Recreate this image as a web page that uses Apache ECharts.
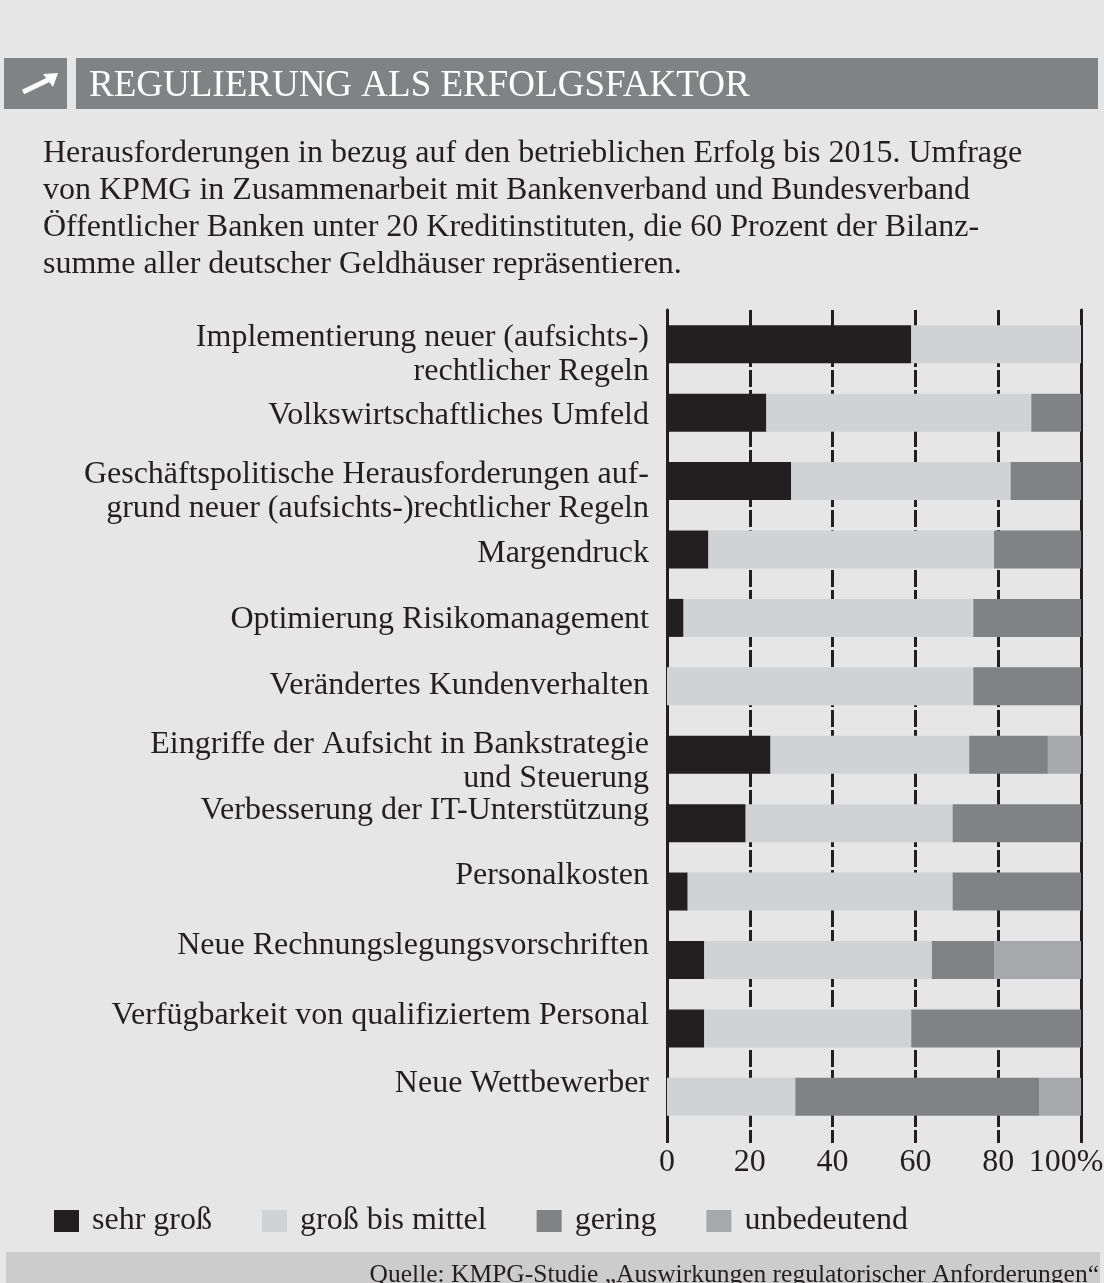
<!DOCTYPE html>
<html>
<head>
<meta charset="utf-8">
<script src="https://cdn.jsdelivr.net/npm/echarts@6/dist/echarts.min.js"></script>
<style>
  html, body { margin: 0; padding: 0; background: #f4f4f4; }
  #chart { width: 1104px; height: 1283px; }
</style>
</head>
<body>
<div id="chart"></div>
<script>
  // Kategorien (von oben nach unten)
  const categories = [
    'Implementierung neuer (aufsichts-)\nrechtlicher Regeln',
    'Volkswirtschaftliches Umfeld',
    'Geschäftspolitische Herausforderungen auf-\ngrund neuer (aufsichts-)rechtlicher Regeln',
    'Margendruck',
    'Optimierung Risikomanagement',
    'Verändertes Kundenverhalten',
    'Eingriffe der Aufsicht in Bankstrategie\nund Steuerung',
    'Verbesserung der IT-Unterstützung',
    'Personalkosten',
    'Neue Rechnungslegungsvorschriften',
    'Verfügbarkeit von qualifiziertem Personal',
    'Neue Wettbewerber'
  ];
  const sehrGross      = [59, 24, 30, 10,  4,  0, 25, 19,  5,  9,  9,  0];
  const grossBisMittel = [41, 64, 53, 69, 70, 74, 48, 50, 64, 55, 50, 31];
  const gering         = [ 0, 12, 17, 21, 26, 26, 19, 31, 31, 15, 41, 59];
  const unbedeutend    = [ 0,  0,  0,  0,  0,  0,  8,  0,  0, 21,  0, 10];
  const xTicks = ['0', '20', '40', '60', '80', '100%'];

  // the printed labels don't sit exactly on the bar centres (px, + = down)
  const labelShift = [10, 3, 11, 4, 2, -1, 7, -13, -16, -14, -13, -13];

  const serif = '"Liberation Serif", "DejaVu Serif", serif';
  const ink = '#231f20';
  const labelSize = 32;

  let myChart = echarts.init(document.getElementById('chart'));

  function bar(name, data, color) {
    return {
      name: name,
      type: 'bar',
      stack: 'total',
      barWidth: 38,
      data: data,
      itemStyle: { color: color },
      emphasis: { disabled: true }
    };
  }

  let labelRich = {};
  labelShift.forEach(function (d, i) {
    labelRich['s' + i] = {
      color: ink, fontSize: labelSize, fontFamily: serif, lineHeight: 34,
      padding: d >= 0 ? [2 * d, 0, 0, 0] : [0, 0, -2 * d, 0]
    };
  });

  myChart.setOption({
    backgroundColor: '#e6e6e6',
    animation: false,
    textStyle: { fontFamily: serif },
    title: [
      {
        text: 'REGULIERUNG ALS ERFOLGSFAKTOR',
        left: 84, top: 63,
        textStyle: { color: '#fff', fontSize: 37, fontWeight: 'normal', fontFamily: serif }
      },
      {
        text: 'Herausforderungen in bezug auf den betrieblichen Erfolg bis 2015. Umfrage\n' +
              'von KPMG in Zusammenarbeit mit Bankenverband und Bundesverband\n' +
              'Öffentlicher Banken unter 20 Kreditinstituten, die 60 Prozent der Bilanz-\n' +
              'summe aller deutscher Geldhäuser repräsentieren.',
        left: 38, top: 130,
        textStyle: { color: ink, fontSize: 32, fontWeight: 'normal', lineHeight: 37, fontFamily: serif }
      },
      {
        text: 'Quelle: KMPG-Studie „Auswirkungen regulatorischer Anforderungen“',
        right: 0, top: 1257,
        textStyle: { color: ink, fontSize: 25.5, fontWeight: 'normal', fontFamily: serif }
      }
    ],
    graphic: [
      { type: 'rect', shape: { x: 6, y: 0, width: 1094, height: 1283 }, style: { fill: '#e6e6e6' }, z: -10 },
      { type: 'rect', shape: { x: 4, y: 58, width: 63, height: 51 }, style: { fill: '#818284' }, z: -5 },
      { type: 'rect', shape: { x: 76, y: 58, width: 1022, height: 51 }, style: { fill: '#818284' }, z: -5 },
      { type: 'line', shape: { x1: 23, y1: 92, x2: 50, y2: 79 }, style: { stroke: '#fff', lineWidth: 5 } },
      { type: 'polygon', shape: { points: [[58, 73], [43, 74], [53, 87]] }, style: { fill: '#fff' } },
      { type: 'rect', shape: { x: 6, y: 1252, width: 1094, height: 31 }, style: { fill: '#cccccc' }, z: -5 }
    ],
    legend: {
      left: 54, top: 1205,
      icon: 'rect',
      itemWidth: 25, itemHeight: 22,
      itemGap: 50,
      padding: 0,
      textStyle: { color: ink, fontSize: 32, fontFamily: serif, padding: [0, 0, 0, 8] },
      data: ['sehr groß', 'groß bis mittel', 'gering', 'unbedeutend']
    },
    grid: { left: 667, right: 23, top: 310, height: 821, containLabel: false, outerBoundsMode: 'none' },
    xAxis: {
      type: 'value',
      min: 0, max: 100, interval: 20,
      axisLine: { show: false },
      axisTick: { show: true, length: 12, lineStyle: { color: ink, width: 3 } },
      splitLine: { show: true, lineStyle: { color: ink, width: 3, type: [17, 3] } },
      axisLabel: {
        color: ink, fontSize: 32, fontFamily: serif, margin: 16,
        formatter: function (v) {
          const i = Math.round(v / 20);
          return i === xTicks.length - 1 ? '{last|' + xTicks[i] + '}' : xTicks[i];
        },
        rich: { last: { color: ink, fontSize: 32, fontFamily: serif, padding: [0, 30, 0, 0] } }
      }
    },
    yAxis: [
      {
        type: 'category',
        inverse: true,
        data: categories,
        axisLine: { show: true, lineStyle: { color: ink, width: 3 } },
        axisTick: { show: false },
        axisLabel: {
          color: ink, fontSize: labelSize, lineHeight: 34, margin: 18, fontFamily: serif,
          formatter: function (v, i) {
            return v.split('\n').map(function (line) { return '{s' + i + '|' + line + '}'; }).join('\n');
          },
          rich: labelRich
        }
      },
      {
        type: 'category',
        inverse: true,
        position: 'right',
        data: categories,
        axisLine: { show: true, lineStyle: { color: ink, width: 3 } },
        axisTick: { show: false },
        axisLabel: { show: false }
      }
    ],
    series: [
      bar('sehr groß', sehrGross, '#231f20'),
      bar('groß bis mittel', grossBisMittel, '#d1d2d4'),
      bar('gering', gering, '#818284'),
      bar('unbedeutend', unbedeutend, '#a7a8ab')
    ]
  });
</script>
</body>
</html>
